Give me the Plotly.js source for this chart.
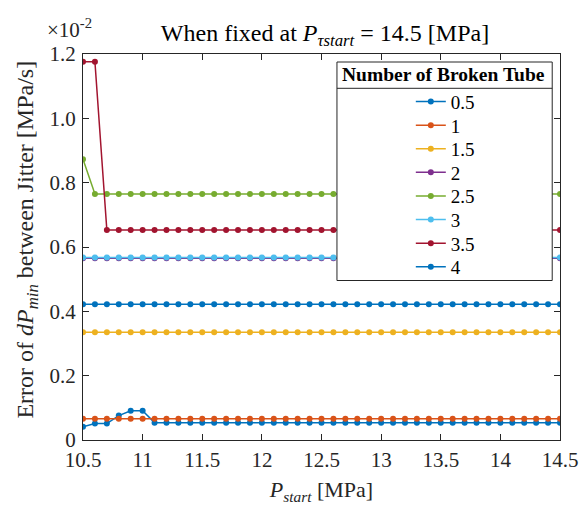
<!DOCTYPE html>
<html>
<head>
<meta charset="utf-8">
<script src="https://cdn.plot.ly/plotly-3.0.1.min.js"></script>
<style>html,body{margin:0;padding:0;background:#fff;}#chart{width:585px;height:505px;}</style>
</head>
<body>
<div id="chart"></div>
<script>
// P_start [MPa]
const pStart = [10.5,10.6,10.7,10.8,10.9,11.0,11.1,11.2,11.3,11.4,11.5,11.6,11.7,11.8,11.9,12.0,12.1,12.2,12.3,12.4,12.5,12.6,12.7,12.8,12.9,13.0,13.1,13.2,13.3,13.4,13.5,13.6,13.7,13.8,13.9,14.0,14.1,14.2,14.3,14.4,14.5];
// Error values, in units of 1e-2 MPa/s
const tube05 = [0.041,0.051,0.051,0.076,0.091,0.091,0.054,0.054,0.054,0.054,0.054,0.054,0.054,0.054,0.054,0.054,0.054,0.054,0.054,0.054,0.054,0.054,0.054,0.054,0.054,0.054,0.054,0.054,0.054,0.054,0.054,0.054,0.054,0.054,0.054,0.054,0.054,0.054,0.054,0.054,0.054];
const tube1 = [0.066,0.066,0.066,0.066,0.066,0.066,0.066,0.066,0.066,0.066,0.066,0.066,0.066,0.066,0.066,0.066,0.066,0.066,0.066,0.066,0.066,0.066,0.066,0.066,0.066,0.066,0.066,0.066,0.066,0.066,0.066,0.066,0.066,0.066,0.066,0.066,0.066,0.066,0.066,0.066,0.066];
const tube15 = [0.335,0.335,0.335,0.335,0.335,0.335,0.335,0.335,0.335,0.335,0.335,0.335,0.335,0.335,0.335,0.335,0.335,0.335,0.335,0.335,0.335,0.335,0.335,0.335,0.335,0.335,0.335,0.335,0.335,0.335,0.335,0.335,0.335,0.335,0.335,0.335,0.335,0.335,0.335,0.335,0.335];
const tube2 = [0.565,0.565,0.565,0.565,0.565,0.565,0.565,0.565,0.565,0.565,0.565,0.565,0.565,0.565,0.565,0.565,0.565,0.565,0.565,0.565,0.565,0.565,0.565,0.565,0.565,0.565,0.565,0.565,0.565,0.565,0.565,0.565,0.565,0.565,0.565,0.565,0.565,0.565,0.565,0.565,0.565];
const tube25 = [0.873,0.765,0.765,0.765,0.765,0.765,0.765,0.765,0.765,0.765,0.765,0.765,0.765,0.765,0.765,0.765,0.765,0.765,0.765,0.765,0.765,0.765,0.765,0.765,0.765,0.765,0.765,0.765,0.765,0.765,0.765,0.765,0.765,0.765,0.765,0.765,0.765,0.765,0.765,0.765,0.765];
const tube3 = [0.567,0.567,0.567,0.567,0.567,0.567,0.567,0.567,0.567,0.567,0.567,0.567,0.567,0.567,0.567,0.567,0.567,0.567,0.567,0.567,0.567,0.567,0.567,0.567,0.567,0.567,0.567,0.567,0.567,0.567,0.567,0.567,0.567,0.567,0.567,0.567,0.567,0.567,0.567,0.567,0.567];
const tube35 = [1.176,1.176,0.653,0.653,0.653,0.653,0.653,0.653,0.653,0.653,0.653,0.653,0.653,0.653,0.653,0.653,0.653,0.653,0.653,0.653,0.653,0.653,0.653,0.653,0.653,0.653,0.653,0.653,0.653,0.653,0.653,0.653,0.653,0.653,0.653,0.653,0.653,0.653,0.653,0.653,0.653];
const tube4 = [0.422,0.422,0.422,0.422,0.422,0.422,0.422,0.422,0.422,0.422,0.422,0.422,0.422,0.422,0.422,0.422,0.422,0.422,0.422,0.422,0.422,0.422,0.422,0.422,0.422,0.422,0.422,0.422,0.422,0.422,0.422,0.422,0.422,0.422,0.422,0.422,0.422,0.422,0.422,0.422,0.422];

const seriesNames = ['0.5','1','1.5','2','2.5','3','3.5','4'];
const seriesData = [tube05,tube1,tube15,tube2,tube25,tube3,tube35,tube4];
const seriesColors = ['#0072BD','#D95319','#EDB120','#7E2F8E','#77AC30','#4DBEEE','#A2142F','#0072BD'];
const xTicks = [10.5,11,11.5,12,12.5,13,13.5,14,14.5];
const xTickText = ['10.5','11','11.5','12','12.5','13','13.5','14','14.5'];
const yTicks = [0,0.2,0.4,0.6,0.8,1.0,1.2];
const yTickText = ['0','0.2','0.4','0.6','0.8','1.0','1.2'];

// geometry (pixels)
const W = 585, H = 505;
const mL = 82.5, mR = 24.5, mT = 54, mB = 65;
const pw = W - mL - mR, ph = H - mT - mB;
const px = v => (v - mL) / pw;          // pixel x -> paper
const py = v => (H - mB - v) / ph;      // pixel y -> paper

const FONT = '"Liberation Serif", "Times New Roman", serif';
const AX = '#262626';

const traces = seriesNames.map((n, i) => ({
  type: 'scatter', mode: 'lines+markers',
  x: pStart, y: seriesData[i], name: n,
  line: {color: seriesColors[i], width: 1.5},
  marker: {color: seriesColors[i], size: 6},
  legend: i === 0 ? 'legend' : 'legend' + (i + 1)
}));

const layout = {
  width: W, height: H,
  margin: {l: mL, r: mR, t: mT, b: mB, pad: 0},
  paper_bgcolor: '#fff', plot_bgcolor: '#fff',
  font: {family: FONT, color: AX, size: 21},
  title: {
    text: 'When fixed at <i>P</i><sub><i>τstart</i></sub> = 14.5 [MPa]',
    font: {family: FONT, size: 24, color: '#000'},
    x: px(325), xref: 'paper', xanchor: 'center',
    y: 1 - 33 / H, yref: 'container', yanchor: 'middle'
  },
  xaxis: {
    range: [10.5, 14.5], tickvals: xTicks, ticktext: xTickText,
    ticks: 'inside', ticklen: 6, tickcolor: AX, tickwidth: 1,
    showline: true, linecolor: AX, linewidth: 1, mirror: 'ticks',
    showgrid: false, zeroline: false, ticklabelstandoff: 1,
    tickfont: {family: FONT, size: 21, color: AX},
    title: {text: '<i>P</i><sub><i>start</i></sub> [MPa]', font: {family: FONT, size: 22, color: AX}, standoff: 13}
  },
  yaxis: {
    range: [0, 1.2], tickvals: yTicks, ticktext: yTickText,
    ticks: 'inside', ticklen: 6, tickcolor: AX, tickwidth: 1,
    showline: true, linecolor: AX, linewidth: 1, mirror: 'ticks',
    showgrid: false, zeroline: false, ticklabelstandoff: 2,
    tickfont: {family: FONT, size: 21, color: AX}
  },
  showlegend: true,
  shapes: [
    {type: 'rect', xref: 'paper', yref: 'paper', x0: px(337), x1: px(552.7), y0: py(280.5), y1: py(62),
     line: {color: AX, width: 1}, fillcolor: '#fff', layer: 'above'},
    {type: 'line', xref: 'paper', yref: 'paper', x0: px(337), x1: px(552.7), y0: py(88.3), y1: py(88.3),
     line: {color: AX, width: 1}, layer: 'above'}
  ],
  annotations: [
    {text: '<b>Number of Broken Tube</b>', xref: 'paper', yref: 'paper', x: px(444), y: py(75),
     xanchor: 'center', yanchor: 'middle', showarrow: false, font: {family: FONT, size: 19.5, color: '#000'}},
    {text: '×10<sup>-2</sup>', xref: 'paper', yref: 'paper', x: px(45), y: py(29), borderpad: 0,
     xanchor: 'left', yanchor: 'middle', showarrow: false, font: {family: FONT, size: 21, color: AX}},
    {text: 'Error of <i>dP</i><sub><i>min</i></sub> between Jitter [MPa/s]', xref: 'paper', yref: 'paper',
     x: px(26), y: py(240), textangle: -90, xanchor: 'center', yanchor: 'middle', showarrow: false,
     font: {family: FONT, size: 24, color: AX}}
  ]
};

// one legend per entry so spacing matches the reference
const legendY0 = 101.7, legendStep = 23.6;
seriesNames.forEach((n, i) => {
  const key = i === 0 ? 'legend' : 'legend' + (i + 1);
  layout[key] = {
    x: px(411), xanchor: 'left', y: py(legendY0 + i * legendStep), yanchor: 'middle',
    bgcolor: 'rgba(0,0,0,0)', borderwidth: 0,
    font: {family: FONT, size: 19, color: '#000'}, itemclick: false
  };
});

Plotly.newPlot('chart', traces, layout, {displayModeBar: false, staticPlot: true});
</script>
</body>
</html>
